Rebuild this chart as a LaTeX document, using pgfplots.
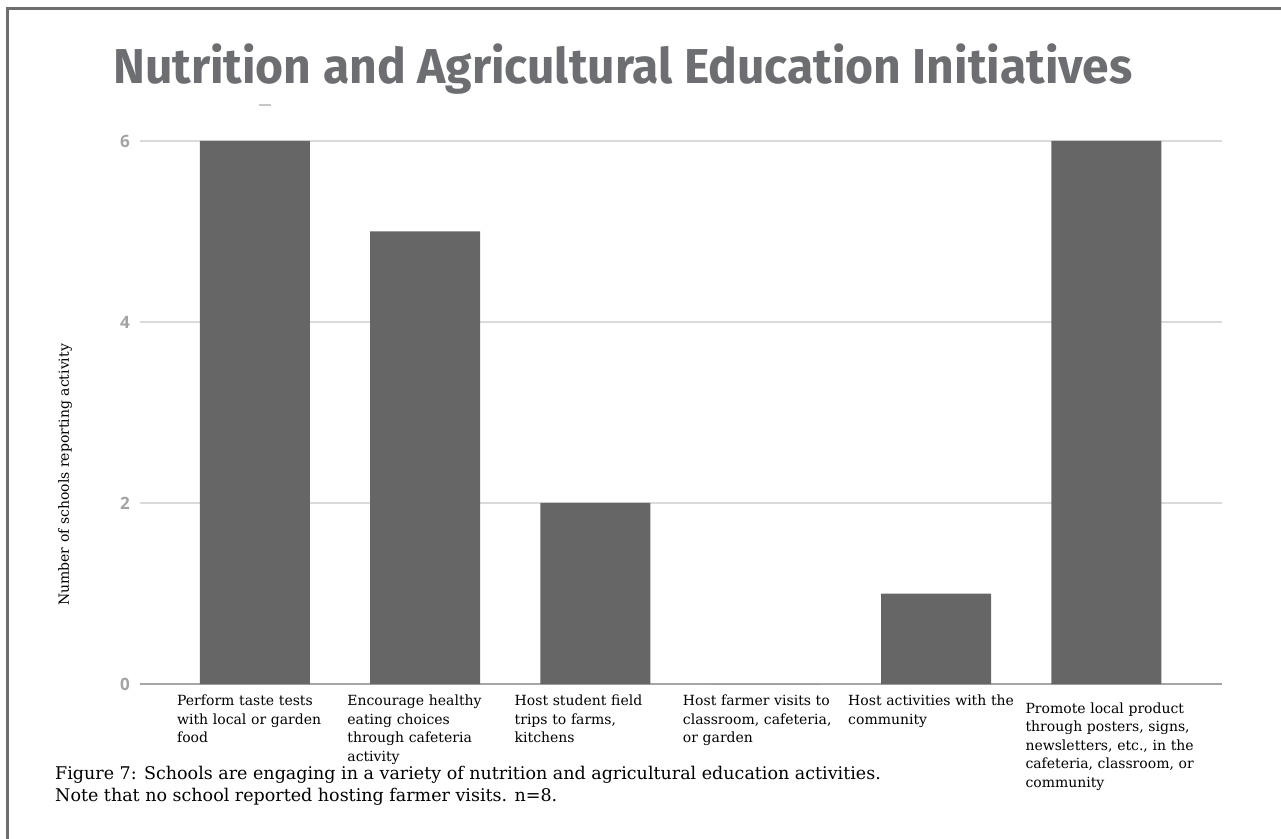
\documentclass[border=0pt]{standalone}
\usepackage{fontspec}
\usepackage{pgfplots}
\pgfplotsset{compat=1.18}
\setmainfont{DejaVu Serif}
\newfontfamily\titlefont{Fira Sans}
\newfontfamily\tickfont{Open Sans}
\definecolor{barc}{HTML}{666666}
\definecolor{titlec}{HTML}{6D6E71}
\definecolor{tickc}{HTML}{A3A3A3}
\definecolor{gridc}{HTML}{DADADA}
\definecolor{zeroc}{HTML}{A6A6A6}
\definecolor{framec}{HTML}{6E6E6E}
\begin{document}
\begin{tikzpicture}[x=1pt,y=1pt]
\useasboundingbox (0,0) rectangle (1281,838);
% frame
\draw[framec, line width=3pt] (7,-10) -- (7,829) -- (1300,829);
% title
\node[anchor=base west, inner sep=0pt, text=titlec] at (113,754)
  {\scalebox{0.98}[1]{\titlefont\bfseries\fontsize{49}{55}\selectfont Nutrition and Agricultural Education Initiatives}};
% faint artifact
\draw[gray!45, line width=1.5pt] (259,733) -- (271,733);
\begin{axis}[
  at={(140pt,154pt)}, anchor=south west,
  scale only axis, width=1082pt, height=543pt,
  xmin=-0.675, xmax=5.68, ymin=0, ymax=6,
  axis lines*=left, axis line style={draw=none},
  major tick length=0pt,
  ytick={2,4,6},
  extra y ticks={0},
  extra y tick style={grid style={color=zeroc, line width=2pt}},
  ymajorgrids, grid style={color=gridc, line width=1.5pt},
  /pgf/number format/assume math mode=true,
  yticklabel style={font=\tickfont\bfseries\fontsize{17}{19}\selectfont, text=tickc, inner sep=0pt, anchor=east, xshift=-10pt},
  xtick={0,1,2,3,4,5},
  xticklabels={
    {Perform taste tests\\with local or garden\\food},
    {Encourage healthy\\eating choices\\through cafeteria\\activity},
    {\hspace*{-3pt}Host student field\\\hspace*{-3pt}trips to farms,\\\hspace*{-3pt}kitchens},
    {\hspace*{-5pt}Host farmer visits to\\\hspace*{-5pt}classroom, cafeteria,\\\hspace*{-5pt}or garden},
    {\hspace*{-10pt}Host activities with the\\\hspace*{-10pt}community},
    {\rule{0pt}{18pt}\hspace*{-3pt}Promote local product\\\hspace*{-3pt}through posters, signs,\\\hspace*{-3pt}newsletters, etc., in the\\\hspace*{-3pt}cafeteria, classroom, or\\\hspace*{-3pt}community}},
  xticklabel style={font=\fontsize{14}{18.5}\selectfont, text width=190pt, align=left, anchor=north west, xshift=-78pt, inner sep=0pt, yshift=-11pt, text=black},
  ylabel={Number of schools reporting activity},
  ylabel style={at={(rel axis cs:-0.0693,0.385)}, anchor=center, font=\fontsize{14}{16}\selectfont},
]
\addplot[ybar, fill=barc, draw=none, bar width=110pt] coordinates {(0,6) (1,5) (2,2) (3,0) (4,1) (5,6)};
\end{axis}
% caption
\node[anchor=north west, inner sep=0pt, align=left, font=\fontsize{17.5}{22}\selectfont] at (55,72)
  {Figure 7: Schools are engaging in a variety of nutrition and agricultural education activities.\\Note that no school reported hosting farmer visits. n=8.};
\end{tikzpicture}
\end{document}
